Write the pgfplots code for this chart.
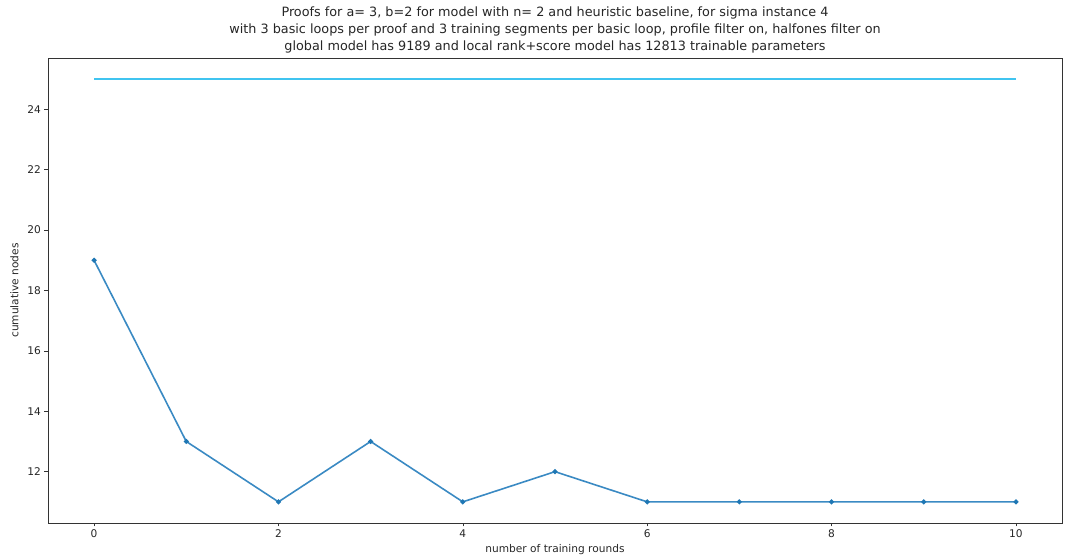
\documentclass[border=0pt]{standalone}
\usepackage{fontspec}
\setmainfont{DejaVu Sans}
\usepackage{pgfplots}
\pgfplotsset{compat=1.18}
\definecolor{lineblue}{HTML}{3A8AC3}
\definecolor{markblue}{HTML}{1F77B4}
\definecolor{basecyan}{HTML}{40C4F0}
\definecolor{axgray}{HTML}{333333}
\begin{document}
\begin{tikzpicture}[x=1pt,y=1pt]
\useasboundingbox (-48,-34) rectangle (1024,523);
\begin{axis}[
    at={(0,0)}, anchor=south west,
    scale only axis,
    width=1014pt, height=465pt,
    xmin=-0.5, xmax=10.5,
    ymin=10.3, ymax=25.7,
    xtick={0,2,...,10},
    ytick={12,14,...,24},
    tick align=outside,
    major tick length=3.5pt,
    tick style={axgray, line width=0.6pt},
    axis line style={axgray, line width=0.6pt},
    xtick pos=bottom, ytick pos=left,
    ticklabel style={font=\fontsize{10.6}{12}\selectfont, text=black!85},
    /pgf/number format/assume math mode=true,
    xlabel={number of training rounds},
    ylabel={cumulative nodes},
    label style={font=\fontsize{10.6}{12}\selectfont, text=black!85},
    xlabel style={yshift=0pt},
    ylabel style={yshift=2pt},
    title={Proofs for a= 3, b=2 for model with n= 2 and heuristic baseline, for sigma instance 4\\with 3 basic loops per proof and 3 training segments per basic loop, profile filter on, halfones filter on\\global model has 9189 and local rank+score model has 12813 trainable parameters},
    title style={align=center, font=\fontsize{12.8}{17}\selectfont, text=black!85, yshift=-5pt},
]
\addplot[basecyan, line width=2pt] coordinates {(0,25) (10,25)};
\addplot[lineblue, line width=1.6pt, mark=*, mark size=1.6pt, mark options={markblue, fill=markblue}] coordinates {
(0,19) (1,13) (2,11) (3,13) (4,11) (5,12) (6,11) (7,11) (8,11) (9,11) (10,11)};
\end{axis}
\end{tikzpicture}
\end{document}
